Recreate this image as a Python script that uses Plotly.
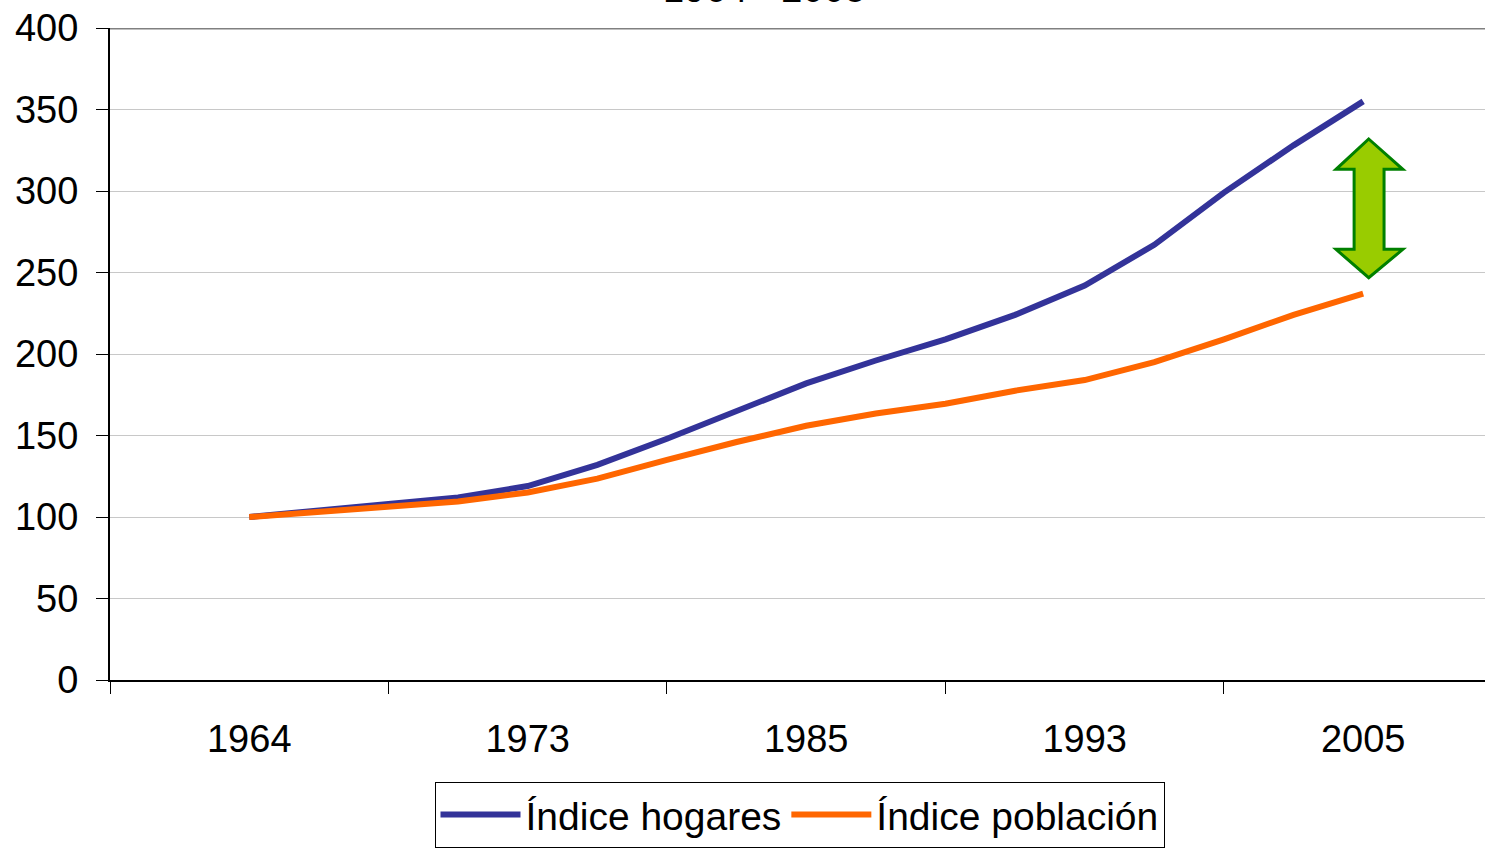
import plotly.graph_objects as go

# points along the x axis (every 4th point carries a year label)
puntos = list(range(17))
anios = ["1964", "1973", "1985", "1993", "2005"]
pos_anios = [0, 4, 8, 12, 16]

indice_hogares = [100, 104, 108, 112, 119, 132, 148, 165, 182, 196, 209, 224, 242, 267, 299, 328, 355]
indice_poblacion = [100, 103, 106.5, 109.5, 115, 123.5, 135, 146, 156, 163.5, 169.5, 177.5, 184, 195, 209, 224, 237]

fuente = "Liberation Sans, Arial, sans-serif"

fig = go.Figure()
fig.add_trace(go.Scatter(x=puntos, y=indice_hogares, mode="lines", name="Índice hogares",
                         line=dict(color="#333399", width=6)))
fig.add_trace(go.Scatter(x=puntos, y=indice_poblacion, mode="lines", name="Índice población",
                         line=dict(color="#FF6600", width=6)))

# green double arrow between the two series
flecha = "M 16.08,331.9 L 16.57,313.3 L 16.30,313.3 L 16.30,264.2 L 16.57,264.2 L 16.08,246.8 " \
         "L 15.61,264.2 L 15.87,264.2 L 15.87,313.3 L 15.61,313.3 Z"
fig.add_shape(type="path", path=flecha, xref="x", yref="y",
              fillcolor="#99CC00", line=dict(color="#008000", width=3))

# plot area border on top
fig.add_shape(type="line", xref="paper", yref="y", x0=0, x1=1, y0=400, y1=400,
              line=dict(color="#808080", width=3))

# title, partly cut by the top edge as in the original
fig.add_annotation(text="1964 - 2005", xref="paper", yref="paper", x=0.476, y=1,
                   xanchor="center", yanchor="bottom", yshift=16, showarrow=False,
                   font=dict(family=fuente, size=38, color="black"))

fig.update_layout(
    width=1485, height=853,
    margin=dict(l=110, r=0, t=28, b=173, autoexpand=False),
    paper_bgcolor="white", plot_bgcolor="white",
    font=dict(family=fuente, size=38, color="black"),
    showlegend=True,
    legend=dict(orientation="h", x=0.236, xanchor="left", y=-0.156, yanchor="top",
                bordercolor="black", borderwidth=1, bgcolor="white",
                font=dict(family=fuente, size=39), itemwidth=80),
    xaxis=dict(range=[-2, 17.75], tickvals=pos_anios, ticktext=anios, ticks="",
               showline=True, linecolor="black", linewidth=2, showgrid=False, zeroline=False,
               ticklabelstandoff=24, automargin=False,
               minor=dict(tickmode="linear", tick0=-2, dtick=4, ticks="outside",
                          ticklen=12, tickcolor="black", tickwidth=1, showgrid=False)),
    yaxis=dict(range=[0, 400], dtick=50, ticks="outside", ticklen=12, tickcolor="black",
               showline=True, linecolor="black", linewidth=2, gridcolor="#C8C8C8",
               gridwidth=1, zeroline=False, ticklabelstandoff=10, automargin=False),
)

fig.write_html("out.html", config={"displayModeBar": False},
               post_script="document.body.style.margin='0';")
